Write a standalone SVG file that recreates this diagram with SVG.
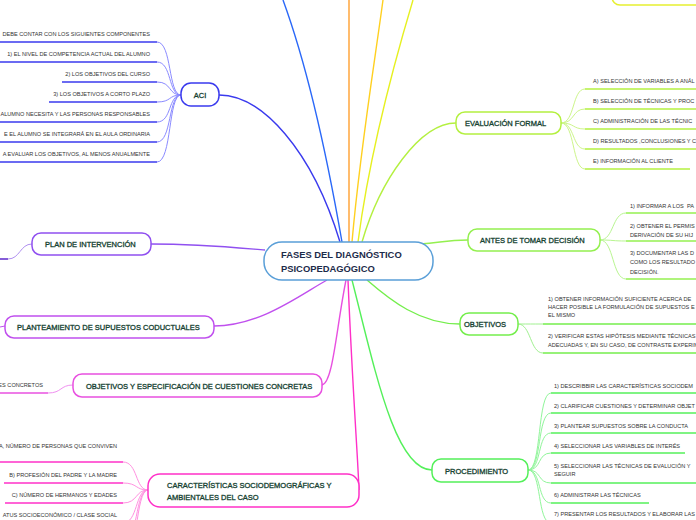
<svg xmlns="http://www.w3.org/2000/svg" width="696" height="520" viewBox="0 0 696 520">
<style>
text{font-family:"Liberation Sans",Arial,sans-serif}
.lbl{font-size:7.5px;fill:#13402f;stroke:#13402f;stroke-width:0.3}
.ctr{font-size:9.4px;font-weight:bold;fill:#1c2b4a}
.sm{font-size:5.6px;fill:#333;stroke:none}
.e{text-anchor:end}
.box{fill:#fff;stroke-width:1.5}
.bar{fill:none;stroke-width:1.7}
.c{fill:none;stroke-width:1}
.m{fill:none;stroke-width:1.4}
</style>
<rect width="696" height="520" fill="#fff"/>
<g id="connectors">
<path class="m" stroke="#3a3aee" d="M219,95 C262,95 312,150 340,242"/>
<path class="m" stroke="#2a68f8" d="M283,0 C305,60 326,150 342,242"/>
<path class="m" stroke="#ffa030" stroke-width="2" d="M349,0 L349,242"/>
<path class="m" stroke="#ffd020" d="M383,0 C375,60 360,150 352,242"/>
<path class="m" stroke="#e6f020" d="M413,0 C395,60 370,150 358,242"/>
<path class="m" stroke="#b4f040" d="M456,123 C420,123 380,180 362,242"/>
<path class="m" stroke="#94f050" d="M468,240 C445,240 440,243 420,244"/>
<path class="m" stroke="#74ee4c" d="M460,324 C420,324 390,300 367,280"/>
<path class="m" stroke="#54f05a" d="M352,280 C375,370 395,470 432,470"/>
<path class="m" stroke="#ff30c8" d="M348,280 C352,380 358,460 359,490"/>
<path class="m" stroke="#e850e0" d="M322,385 C333,383 336,330 346,280"/>
<path class="m" stroke="#c050ee" d="M214,326 C260,326 300,295 327,280"/>
<path class="m" stroke="#9050f0" d="M151,244 C200,244 240,248 265,250"/>
<g stroke="#8a8aff">
<path class="c" d="M157,42 C172,42 168,95 181,95"/>
<path class="c" d="M157,62 C172,62 168,95 181,95"/>
<path class="c" d="M157,82 C172,82 168,95 181,95"/>
<path class="c" d="M157,102 C172,102 168,95 181,95"/>
<path class="c" d="M157,122 C172,122 168,95 181,95"/>
<path class="c" d="M157,142 C172,142 168,95 181,95"/>
<path class="c" d="M157,162 C172,162 168,95 181,95"/>
</g>
<path class="c" stroke="#b090f0" d="M32,244 C20,244 20,259 8,259"/>
<path class="c" stroke="#c050ee" d="M0,327 L5,326"/>
<path class="c" stroke="#f090f0" d="M48,393 C62,393 60,385 73,385"/>
<g stroke="#ff90e0">
<path class="c" d="M123,462 C138,462 135,490 148,490"/>
<path class="c" d="M123,483 C138,483 135,490 148,490"/>
<path class="c" d="M123,503 C138,503 135,490 148,490"/>
<path class="c" d="M123,523 C138,523 135,490 148,490"/>
<path class="c" d="M123,543 C138,543 135,490 148,490"/>
<path class="c" d="M123,563 C138,563 135,490 148,490"/>
</g>
<g stroke="#cdf58a">
<path class="c" d="M561,123 C575,123 572,89 585,89"/>
<path class="c" d="M561,123 C575,123 572,109 585,109"/>
<path class="c" d="M561,123 C575,123 572,129 585,129"/>
<path class="c" d="M561,123 C575,123 572,149 585,149"/>
<path class="c" d="M561,123 C575,123 572,169 585,169"/>
</g>
<g stroke="#b8f590">
<path class="c" d="M600,240 C614,240 612,213 626,213"/>
<path class="c" d="M600,240 C614,240 612,241 626,241"/>
<path class="c" d="M600,240 C614,240 612,279 626,279"/>
</g>
<g stroke="#a0f090">
<path class="c" d="M518,324 C530,324 531,324 543,324"/>
<path class="c" d="M518,324 C531,324 530,353 543,353"/>
</g>
<g stroke="#90f59a">
<path class="c" d="M528,470 C542,470 537,393 551,393"/>
<path class="c" d="M528,470 C542,470 537,413 551,413"/>
<path class="c" d="M528,470 C542,470 537,433 551,433"/>
<path class="c" d="M528,470 C542,470 537,453 551,453"/>
<path class="c" d="M528,470 C542,470 537,483 551,483"/>
<path class="c" d="M528,470 C542,470 537,503 551,503"/>
<path class="c" d="M528,470 C542,470 537,523 551,523"/>
</g>
</g>
<g id="center">
<rect class="box" x="264" y="242" width="169" height="38" rx="18" stroke="#5a9fd8" stroke-width="1.2"/>
<text class="ctr" x="281" y="258">FASES DEL DIAGNÓSTICO</text>
<text class="ctr" x="281" y="272">PSICOPEDAGÓGICO</text>
</g>
<g id="aci">
<rect class="box" x="181" y="83" width="38" height="23" rx="10" stroke="#3a3aee"/>
<text class="lbl" x="200" y="98" text-anchor="middle">ACI</text>
</g>
<g id="aci-children" stroke="#3a3aee">
<g id="aci-1"><path class="bar" d="M0,42 H157"/><text class="sm e" x="150" y="36">DEBE CONTAR CON LOS SIGUIENTES COMPONENTES</text></g>
<g id="aci-2"><path class="bar" d="M0,62 H157"/><text class="sm e" x="150" y="56">1) EL NIVEL DE COMPETENCIA ACTUAL DEL ALUMNO</text></g>
<g id="aci-3"><path class="bar" d="M62,82 H157"/><text class="sm e" x="150" y="76">2) LOS OBJETIVOS DEL CURSO</text></g>
<g id="aci-4"><path class="bar" d="M49,102 H157"/><text class="sm e" x="150" y="96">3) LOS OBJETIVOS A CORTO PLAZO</text></g>
<g id="aci-5"><path class="bar" d="M0,122 H157"/><text class="sm e" x="150" y="116">ALUMNO NECESITA Y LAS PERSONAS RESPONSABLES</text></g>
<g id="aci-6"><path class="bar" d="M0,142 H157"/><text class="sm e" x="150" y="136">E EL ALUMNO SE INTEGRARÁ EN EL AULA ORDINARIA</text></g>
<g id="aci-7"><path class="bar" d="M0,162 H157"/><text class="sm e" x="150" y="156">A EVALUAR LOS OBJETIVOS, AL MENOS ANUALMENTE</text></g>
</g>
<g id="plan">
<rect class="box" x="32" y="233" width="119" height="22" rx="9" stroke="#9050f0"/>
<text class="lbl" x="45" y="247">PLAN DE INTERVENCIÓN</text>
<path class="bar" stroke="#7040d0" d="M0,259 H8"/>
</g>
<g id="planteamiento">
<rect class="box" x="5" y="316" width="209" height="22" rx="9" stroke="#c050ee"/>
<text class="lbl" x="17" y="330">PLANTEAMIENTO DE SUPUESTOS CODUCTUALES</text>
</g>
<g id="objetivos-espec">
<rect class="box" x="73" y="374" width="249" height="23" rx="9" stroke="#e850e0"/>
<text class="lbl" x="86" y="389">OBJETIVOS Y ESPECIFICACIÓN DE CUESTIONES CONCRETAS</text>
<g id="oe-1"><path class="bar" stroke="#e850e0" d="M0,393 H48"/><text class="sm e" x="43" y="387">ES CONCRETOS</text></g>
</g>
<g id="caracteristicas">
<rect class="box" x="148" y="474" width="211" height="33" rx="12" stroke="#ff30c8"/>
<text class="lbl" x="167" y="488">CARACTERÍSTICAS SOCIODEMOGRÁFICAS Y</text>
<text class="lbl" x="167" y="500">AMBIENTALES DEL CASO</text>
</g>
<g id="car-children" stroke="#ff30c8">
<g id="car-1"><path class="bar" d="M0,462 H123"/><text class="sm e" x="117" y="448">A, NÚMERO DE PERSONAS QUE CONVIVEN</text></g>
<g id="car-2"><path class="bar" d="M4,483 H123"/><text class="sm e" x="117" y="477">B) PROFESIÓN DEL PADRE Y LA MADRE</text></g>
<g id="car-3"><path class="bar" d="M5,503 H123"/><text class="sm e" x="117" y="497">C) NÚMERO DE HERMANOS Y EDADES</text></g>
<g id="car-4"><path class="bar" d="M0,523 H123"/><text class="sm e" x="117" y="517">ATUS SOCIOECONÓMICO / CLASE SOCIAL</text></g>
</g>
<g id="top-node">
<rect class="box" x="612" y="-20" width="100" height="25" rx="8" stroke="#e6f030"/>
</g>
<g id="evaluacion">
<rect class="box" x="456" y="112" width="105" height="22" rx="9" stroke="#b4f040"/>
<text class="lbl" x="465" y="126">EVALUACIÓN FORMAL</text>
</g>
<g id="eval-children" stroke="#b4f040">
<g id="ev-1"><path class="bar" d="M585,89 H696"/><text class="sm" x="593" y="83">A) SELECCIÓN DE VARIABLES A ANÁL</text></g>
<g id="ev-2"><path class="bar" d="M585,109 H696"/><text class="sm" x="593" y="103">B) SELECCIÓN DE  TÉCNICAS Y PROC</text></g>
<g id="ev-3"><path class="bar" d="M585,129 H696"/><text class="sm" x="593" y="123">C) ADMINISTRACIÓN DE  LAS TÉCNIC</text></g>
<g id="ev-4"><path class="bar" d="M585,149 H696"/><text class="sm" x="593" y="143">D) RESULTADOS ,CONCLUSIONES Y C</text></g>
<g id="ev-5"><path class="bar" d="M585,169 H690"/><text class="sm" x="593" y="163">E) INFORMACIÓN AL CLIENTE</text></g>
</g>
<g id="antes">
<rect class="box" x="468" y="229" width="132" height="22" rx="9" stroke="#94f050"/>
<text class="lbl" x="480" y="243">ANTES DE TOMAR DECISIÓN</text>
</g>
<g id="antes-children" stroke="#94f050">
<g id="an-1"><path class="bar" d="M626,213 H696"/><text class="sm" x="630" y="208" xml:space="preserve">1) INFORMAR A LOS  PA</text></g>
<g id="an-2"><path class="bar" d="M626,241 H696"/><text class="sm" x="630" y="228">2) OBTENER EL PERMIS</text><text class="sm" x="630" y="237">DERIVACIÓN DE SU HIJ</text></g>
<g id="an-3"><path class="bar" d="M626,279 H696"/><text class="sm" x="630" y="255">3) DOCUMENTAR LAS D</text><text class="sm" x="630" y="264">COMO LOS RESULTADO</text><text class="sm" x="630" y="274">DECISIÓN.</text></g>
</g>
<g id="objetivos">
<rect class="box" x="460" y="313" width="58" height="22" rx="9" stroke="#74ee4c"/>
<text class="lbl" x="464" y="327">OBJETIVOS</text>
</g>
<g id="obj-children" stroke="#74ee4c">
<g id="ob-1"><path class="bar" d="M543,324 H696"/><text class="sm" x="548" y="301">1) OBTENER INFORMACIÓN SUFICIENTE  ACERCA DE</text><text class="sm" x="548" y="309">HACER POSIBLE LA FORMULACIÓN DE SUPUESTOS E</text><text class="sm" x="548" y="317">EL MISMO</text></g>
<g id="ob-2"><path class="bar" d="M543,353 H696"/><text class="sm" x="548" y="338">2) VERIFICAR ESTAS HIPÓTESIS MEDIANTE TÉCNICAS</text><text class="sm" x="548" y="347">ADECUADAS Y, EN SU CASO, DE CONTRASTE EXPERIM</text></g>
</g>
<g id="procedimiento">
<rect class="box" x="432" y="459" width="96" height="23" rx="9" stroke="#54f05a"/>
<text class="lbl" x="445" y="474">PROCEDIMIENTO</text>
</g>
<g id="proc-children" stroke="#54f05a">
<g id="pr-1"><path class="bar" d="M551,393 H696"/><text class="sm" x="554" y="388">1) DESCRIBBIR LAS CARACTERÍSTICAS SOCIODEM</text></g>
<g id="pr-2"><path class="bar" d="M551,413 H696"/><text class="sm" x="554" y="408">2) CLARIFICAR CUESTIONES Y DETERMINAR OBJET</text></g>
<g id="pr-3"><path class="bar" d="M551,433 H696"/><text class="sm" x="554" y="428">3) PLANTEAR SUPUESTOS SOBRE LA CONDUCTA</text></g>
<g id="pr-4"><path class="bar" d="M551,453 H685"/><text class="sm" x="554" y="448">4) SELECCIONAR LAS VARIABLES DE INTERÉS</text></g>
<g id="pr-5"><path class="bar" d="M551,483 H696"/><text class="sm" x="554" y="468">5) SELECCIONAR LAS TÉCNICAS DE EVALUCIÓN Y</text><text class="sm" x="554" y="476">SEGUIR</text></g>
<g id="pr-6"><path class="bar" d="M551,503 H649"/><text class="sm" x="554" y="497">6) ADMINISTRAR LAS TÉCNICAS</text></g>
<g id="pr-7"><path class="bar" d="M551,523 H696"/><text class="sm" x="554" y="516">7) PRESENTAR LOS RESULTADOS Y ELABORAR LAS</text></g>
</g>
</svg>
